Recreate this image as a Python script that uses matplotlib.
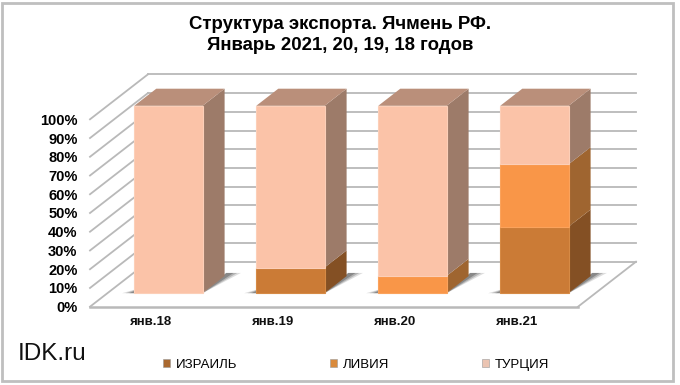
import matplotlib
matplotlib.use("Agg")
import matplotlib.pyplot as plt
from matplotlib.patches import Patch, Rectangle

# chart data, shares in percent
months = ["янв.18", "янв.19", "янв.20", "янв.21"]
ticks = [0, 10, 20, 30, 40, 50, 60, 70, 80, 90, 100]
israel = [0, 13.7, 0, 35.5]
libya = [0, 0, 9.2, 33.3]
turkey = [100, 86.3, 90.8, 31.2]
names = ["ИЗРАИЛЬ", "ЛИВИЯ", "ТУРЦИЯ"]

# front, side, top, front edge colours of each series
colors = [("#CB7B36", "#845024", "#A0683A", "#D68A45"),
          ("#F99648", "#9F6530", "#C07E45", "#FBA35C"),
          ("#FBC3A8", "#9D7B69", "#BA8F7A", "#FCCFB8")]
legend_colors = ["#A9682F", "#D98A3C", "#EBC4B2"]

# depth of the 3d box in data units
depth_x = 58 / 122
depth_y = 45 / 1.874
bar_width = 0.56
bar_near = 0.30
bar_far = 0.68
grid_color = "#B9B9B9"

plt.rcParams["font.family"] = ["Liberation Sans", "DejaVu Sans"]

W, H = 680, 385
fig = plt.figure(figsize=(W / 100, H / 100), dpi=100)
ax = fig.add_axes([90 / W, 1 - 306.7 / H, 488 / W, 187.4 / H])
ax.set_xlim(-0.5, 3.5)
ax.set_ylim(0, 100)
ax.patch.set_visible(False)
for s in ax.spines.values():
    s.set_visible(False)


# moves a point from the front plane into the box
def proj(x, y, d):
    return x + d * depth_x, y + d * depth_y


def face(points, color, z, alpha=1.0, edge="none"):
    xs = [proj(*p)[0] for p in points]
    ys = [proj(*p)[1] for p in points]
    ax.fill(xs, ys, fc=color, ec=edge, lw=0.8, zorder=z, clip_on=False, alpha=alpha)


# back wall, side wall and floor lines
x0, x1 = -0.5, 3.5
for t in ticks:
    xa, ya = proj(x0, t, 1)
    xb, yb = proj(x1, t, 1)
    ax.plot([xa, xb], [ya, yb], color=grid_color, lw=1.3, zorder=1, clip_on=False)
    ax.plot([x0, xa], [t, ya], color=grid_color, lw=1.3, zorder=1, clip_on=False)
ax.plot([x0, x1], [0, 0], color=grid_color, lw=1.8, zorder=1, clip_on=False)
xa, ya = proj(x1, 0, 1)
ax.plot([x1, xa], [0, ya], color=grid_color, lw=1.3, zorder=1, clip_on=False)

# bars, drawn left to right and bottom to top
for i in range(len(months)):
    left = i - bar_width / 2
    right = i + bar_width / 2

    # soft shadow on the floor, on the right side and a wedge on the left
    for grow, a in [(0.10, 0.2), (0.07, 0.3), (0.04, 0.45)]:
        face([(right, 0, bar_near), (right + grow, 0, bar_far + 0.07),
              (right - 0.02, 0, bar_far + 0.07)], "#555555", 2, alpha=a)
        face([(left - grow, 0, bar_near), (left, 0, bar_near),
              (left, 0, bar_near + 0.12)], "#555555", 2, alpha=a)

    base = 0
    top_color = colors[2][2]
    for vals, col in zip([israel, libya, turkey], colors):
        v = vals[i]
        if v == 0:
            continue
        # front
        face([(left, base, bar_near), (right, base, bar_near),
              (right, base + v, bar_near), (left, base + v, bar_near)], col[0], 4, edge=col[3])
        # side
        face([(right, base, bar_near), (right, base, bar_far),
              (right, base + v, bar_far), (right, base + v, bar_near)], col[1], 3)
        base += v
        top_color = col[2]
    face([(left, base, bar_near), (right, base, bar_near),
          (right, base, bar_far), (left, base, bar_far)], top_color, 3)

# axis labels
ax.set_xticks(range(len(months)))
ax.set_xticklabels(months, fontsize=9.5, fontweight="bold", color="#111111")
ax.set_yticks(ticks)
ax.set_yticklabels([str(t) + "%" for t in ticks], fontsize=10.5, fontweight="bold")
ax.tick_params(axis="both", length=0)
ax.tick_params(axis="x", pad=7)
ax.tick_params(axis="y", pad=9)

# legend
handles = [Patch(facecolor=c, edgecolor="#999999", lw=0.4) for c in legend_colors]
fig.legend(handles, names, loc="center left", bbox_to_anchor=(151 / W, 1 - 365 / H), ncol=3,
           frameon=False, fontsize=9.5, handlelength=0.55, handleheight=0.55,
           handletextpad=0.45, columnspacing=7.0)

# title and site label
fig.text(340 / W, 1 - 35 / H, "Структура экспорта. Ячмень РФ.\nЯнварь 2021, 20, 19, 18 годов",
         ha="center", va="center", fontsize=13.4, fontweight="bold", linespacing=1.25)
fig.text(18 / W, 1 - 354 / H, "IDK.ru", ha="left", va="center", fontsize=17.5, color="#111111")

# outer frame of the chart
fig.add_artist(Rectangle((2 / W, 1 - 381 / H), 671 / W, 378 / H, transform=fig.transFigure,
                         fill=False, ec="#BFBFBF", lw=2))

fig.savefig("out.png", dpi=100)
